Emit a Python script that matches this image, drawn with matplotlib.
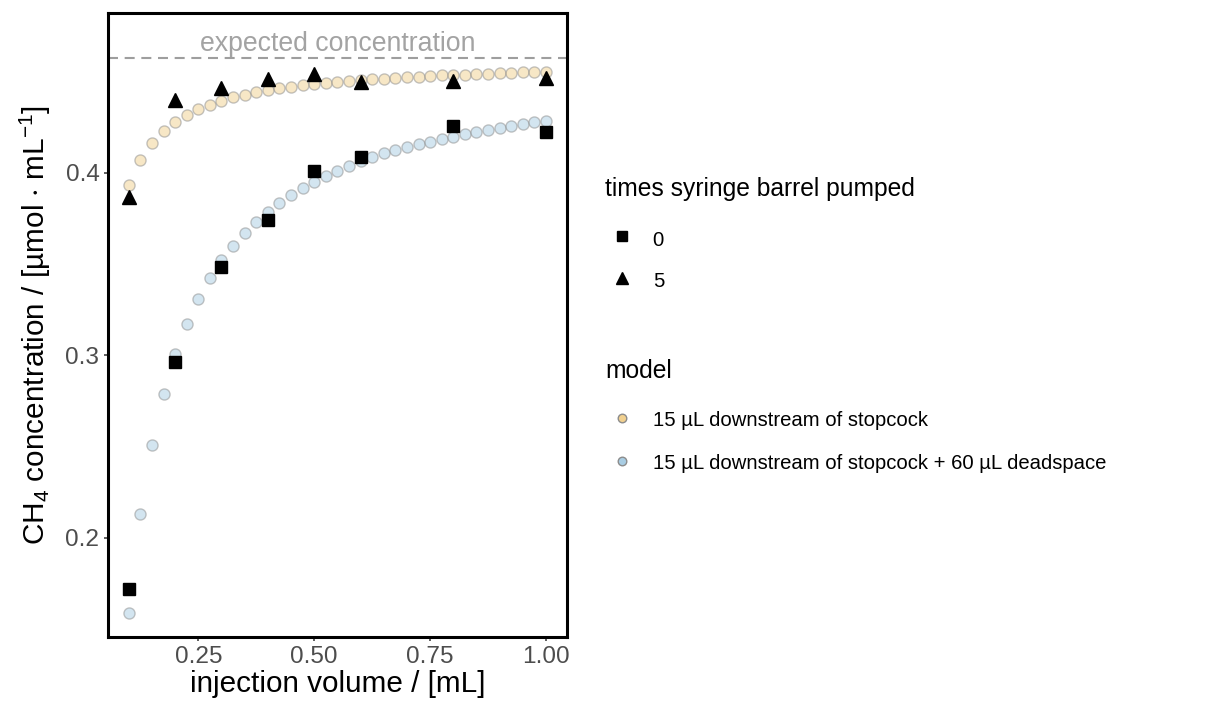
import matplotlib
matplotlib.use("Agg")
import matplotlib.pyplot as plt
import numpy as np

plt.rcParams['font.family'] = ['Liberation Sans', 'DejaVu Sans']
plt.rcParams['mathtext.fontset'] = 'custom'
plt.rcParams['mathtext.rm'] = 'Liberation Sans'
plt.rcParams['mathtext.it'] = 'Liberation Sans:italic'
plt.rcParams['mathtext.default'] = 'regular'
plt.rcParams['lines.scale_dashes'] = False

# measured concentrations by injection volume
inj_volume = [0.1, 0.2, 0.3, 0.4, 0.5, 0.6, 0.8, 1.0]
conc_pumped0 = [0.1717, 0.2963, 0.3482, 0.3739, 0.4009, 0.4084, 0.4254, 0.4221]
conc_pumped5 = [0.3868, 0.4398, 0.4466, 0.4512, 0.4539, 0.4497, 0.4502, 0.4521]

# model curves evaluated every 0.025 mL
model_volume = [round(0.1 + 0.025 * i, 3) for i in range(37)]
model_stopcock = [
    0.3934, 0.4070, 0.4163, 0.4228, 0.4279, 0.4316, 0.4347, 0.4373, 0.4395,
    0.4413, 0.4427, 0.4442, 0.4453, 0.4462, 0.4471, 0.4479, 0.4486, 0.4493,
    0.4497, 0.4502, 0.4506, 0.4511, 0.4515, 0.4519, 0.4523, 0.4526, 0.4530,
    0.4533, 0.4535, 0.4538, 0.4541, 0.4543, 0.4545, 0.4547, 0.4550, 0.4552,
    0.4553,
]
model_deadspace = [
    0.1589, 0.2128, 0.2508, 0.2787, 0.3007, 0.3171, 0.3310, 0.3423, 0.3522,
    0.3600, 0.3671, 0.3732, 0.3786, 0.3832, 0.3878, 0.3915, 0.3947, 0.3982,
    0.4009, 0.4037, 0.4066, 0.4088, 0.4106, 0.4124, 0.4141, 0.4156, 0.4170,
    0.4185, 0.4197, 0.4212, 0.4223, 0.4234, 0.4247, 0.4258, 0.4267, 0.4276,
    0.4283,
]
expected_conc = 0.4627

x_ticks = [0.25, 0.50, 0.75, 1.00]
x_ticklabels = ["0.25", "0.50", "0.75", "1.00"]
y_ticks = [0.2, 0.3, 0.4]
y_ticklabels = ["0.2", "0.3", "0.4"]

pumped_labels = ["0", "5"]
model_labels = ["15 µL downstream of stopcock",
                "15 µL downstream of stopcock + 60 µL deadspace"]
col_stopcock = "#F1D08F"
col_deadspace = "#A9CDE3"

W, H = 1222, 711
fig = plt.figure(figsize=(W / 100, H / 100), dpi=100)
ax = fig.add_axes([108 / W, 1 - 637 / H, (567 - 108) / W, (637 - 13) / H])

ax.axhline(expected_conc, color="#9E9E9E", lw=1.5, ls=(0, (7.2, 4.8)), zorder=1)
ax.annotate("expected concentration", xy=(0.55, expected_conc),
            xytext=(0, 5.5), textcoords="offset points",
            color="#A3A3A3", fontsize=19.2, ha="center", va="baseline")

ax.scatter(model_volume, model_stopcock, s=64, color=col_stopcock,
           edgecolors="#8C8C8C", linewidths=1.0, alpha=0.5, zorder=2)
ax.scatter(model_volume, model_deadspace, s=64, color=col_deadspace,
           edgecolors="#8C8C8C", linewidths=1.0, alpha=0.5, zorder=2)

ax.plot(inj_volume, conc_pumped0, ls="none", marker="s", ms=9.2,
        color="black", zorder=3)
ax.plot(inj_volume, conc_pumped5, ls="none", marker="^", ms=10.2,
        color="black", zorder=3)

ax.set_xlim(0.0552, 1.0453)
ax.set_ylim(0.1456, 0.4875)
ax.set_xticks(x_ticks)
ax.set_xticklabels(x_ticklabels)
ax.set_yticks(y_ticks)
ax.set_yticklabels(y_ticklabels)
ax.tick_params(axis="both", length=3.2, width=1.1, color="#333333",
               labelcolor="#4D4D4D", labelsize=17.6, pad=3)
for sp in ax.spines.values():
    sp.set_linewidth(2.2)
    sp.set_color("black")

ax.set_xlabel("injection volume / [mL]", fontsize=21.4, labelpad=2)
ax.set_ylabel(r"CH$_4$ concentration / [µmol $\cdot$ mL$^{-1}$]",
              fontsize=21.4, labelpad=9)

# legends drawn on a figure-sized overlay in pixel units
lg = fig.add_axes([0, 0, 1, 1])
lg.set_xlim(0, W)
lg.set_ylim(H, 0)
lg.axis("off")

lg.text(605, 196, "times syringe barrel pumped", fontsize=17.7,
        va="baseline", ha="left")
lg.plot([622.3], [236], marker="s", ms=7.6, color="black", ls="none")
lg.plot([622.3], [278], marker="^", ms=9.2, color="black", ls="none")
lg.text(652.7, 245.5, pumped_labels[0], fontsize=14.6, va="baseline")
lg.text(652.7, 287.0, pumped_labels[1], fontsize=14.6, va="baseline")

lg.text(605, 378.5, "model", fontsize=17.7, va="baseline", ha="left")
lg.scatter([622.3], [418.3], s=38, color=col_stopcock, edgecolors="#8C8C8C",
           linewidths=1.0)
lg.scatter([622.3], [461], s=38, color=col_deadspace, edgecolors="#8C8C8C",
           linewidths=1.0)
lg.text(652.7, 426.5, model_labels[0], fontsize=14.6, va="baseline")
lg.text(652.7, 469.2, model_labels[1], fontsize=14.6, va="baseline")

fig.savefig("out.png", dpi=100)
